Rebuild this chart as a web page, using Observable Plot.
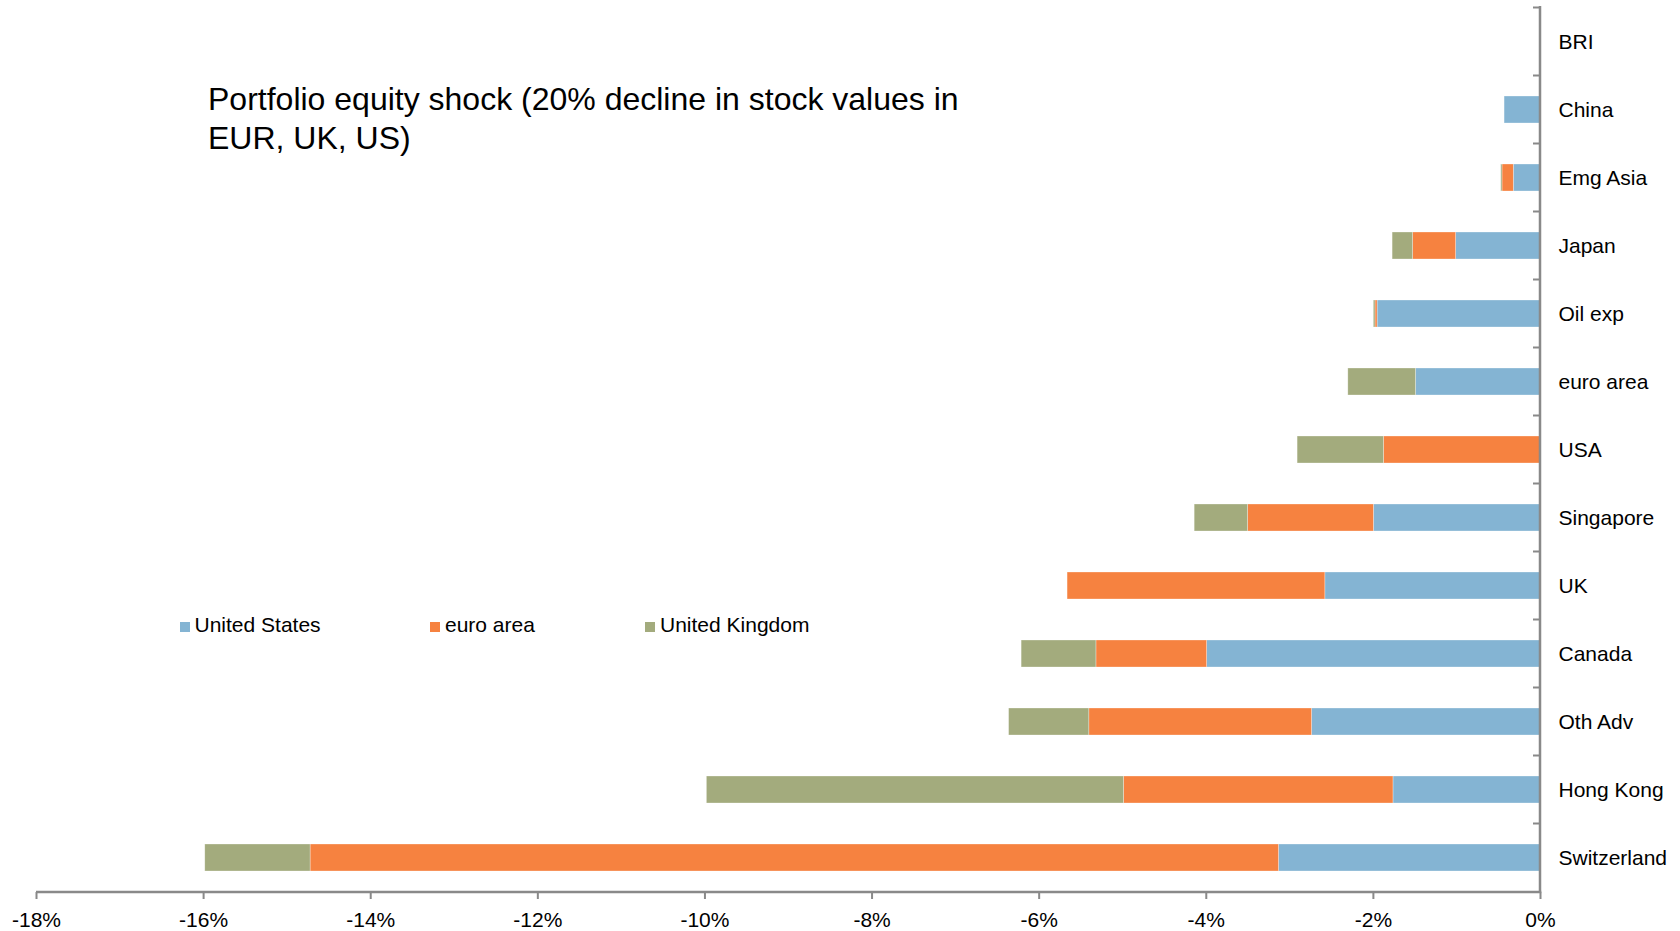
<!DOCTYPE html>
<html>
<head>
<meta charset="utf-8">
<script src="https://cdn.jsdelivr.net/npm/d3@7"></script>
<script src="https://cdn.jsdelivr.net/npm/@observablehq/plot@0.6"></script>
<style>
  html, body { margin: 0; padding: 0; background: #fff; }
  #wrap { position: relative; width: 1680px; height: 931px; font-family: "Liberation Sans", Arial, sans-serif; color: #000; }
  #title { position: absolute; left: 208px; top: 80px; font-size: 32px; line-height: 38.6px; white-space: nowrap; }
  .leg { position: absolute; top: 613px; font-size: 21px; line-height: 24px; white-space: nowrap; display: flex; align-items: baseline; }
  .sw { display: inline-block; width: 10px; height: 10px; margin-right: 5px; }
</style>
</head>
<body>
<div id="wrap">
  <div id="chart"></div>
  <div id="title">Portfolio equity shock (20% decline in stock values in<br>EUR, UK, US)</div>
</div>
<script>
const titleText = "Portfolio equity shock (20% decline in stock values in EUR, UK, US)";
const categories = ["BRI", "China", "Emg Asia", "Japan", "Oil exp", "euro area", "USA", "Singapore", "UK", "Canada", "Oth Adv", "Hong Kong", "Switzerland"];
const seriesNames = ["United States", "euro area", "United Kingdom"];
const seriesColors = ["#84B4D3", "#F68240", "#A3AB7D"];
const unitedStates = [0, -0.43, -0.32, -1.01, -1.95, -1.49, 0, -1.994, -2.575, -3.99, -2.735, -1.76, -3.13];
const euroArea = [0, 0, -0.135, -0.515, -0.025, 0, -1.874, -1.506, -3.085, -1.325, -2.665, -3.225, -11.59];
const unitedKingdom = [0, 0, -0.015, -0.245, -0.02, -0.81, -1.033, -0.639, 0, -0.895, -0.96, -4.992, -1.26];
const xTicks = [-18, -16, -14, -12, -10, -8, -6, -4, -2, 0];

const seriesValues = [unitedStates, euroArea, unitedKingdom];
const table = [];
categories.forEach((c, i) => {
  seriesNames.forEach((s, j) => {
    table.push({category: c, series: s, value: seriesValues[j][i]});
  });
});

const axisColor = "#898989";
const chart = Plot.plot({
  width: 1680,
  height: 931,
  marginLeft: 36,
  marginRight: 140,
  marginTop: 6,
  marginBottom: 39,
  style: {fontFamily: "'Liberation Sans', Arial, sans-serif", fontSize: "21px", color: "#000", background: "#fff"},
  x: {domain: [-18, 0], label: null},
  y: {domain: categories, paddingInner: 0.61, paddingOuter: 0.305, label: null},
  color: {domain: seriesNames, range: seriesColors},
  marks: [
    Plot.barX(table, Plot.stackX({
      x: "value", y: "category", fill: "series", z: "series",
      order: seriesNames,
      stroke: "#ffffff", strokeOpacity: 0.5, strokeWidth: 0.6
    })),
    Plot.axisX({anchor: "bottom", ticks: xTicks, tickSize: 7, tickPadding: 13,
      tickFormat: d => `${d}%`, stroke: axisColor, strokeWidth: 2, fill: "#000", fontSize: 21}),
    Plot.axisY({anchor: "right", tickSize: 0, tickPadding: 18, fill: "#000", fontSize: 21, textAnchor: "start"})
  ]
});
document.getElementById("chart").appendChild(chart);

// axis lines and category boundary ticks from the library scales
const xs = chart.scale("x");
const ys = chart.scale("y");
const x0 = xs.apply(0);
const xMin = xs.apply(-18);
const [yTop, yBot] = ys.range;
const g = d3.select(chart).append("g").attr("stroke", axisColor).attr("fill", "none");
const gap = (ys.step - ys.bandwidth) / 2;
const bounds = categories.map(c => ys.apply(c) - gap);
bounds.forEach(b => {
  g.append("line").attr("x1", x0 - 7).attr("x2", x0).attr("y1", b).attr("y2", b).attr("stroke-width", 2);
});
g.append("line").attr("x1", xMin).attr("x2", x0 + 1.25).attr("y1", yBot).attr("y2", yBot).attr("stroke-width", 2.5);
g.append("line").attr("x1", x0).attr("x2", x0).attr("y1", yTop).attr("y2", yBot).attr("stroke-width", 2.5);

// legend
const legendLefts = [179.5, 430, 645];
const wrap = document.getElementById("wrap");
seriesNames.forEach((s, i) => {
  const item = document.createElement("div");
  item.className = "leg";
  item.style.left = legendLefts[i] + "px";
  const sw = document.createElement("span");
  sw.className = "sw";
  sw.style.background = seriesColors[i];
  item.appendChild(sw);
  const t = document.createElement("span");
  t.textContent = s;
  item.appendChild(t);
  wrap.appendChild(item);
});
</script>
</body>
</html>
